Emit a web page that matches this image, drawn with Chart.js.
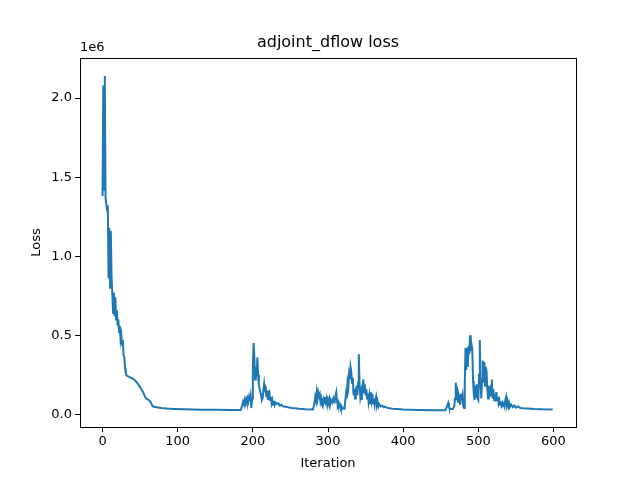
<!DOCTYPE html>
<html>
<head>
<meta charset="utf-8">
<script src="https://cdn.jsdelivr.net/npm/chart.js@4/dist/chart.umd.min.js"></script>
<style>
  html, body { margin: 0; padding: 0; background: #fff; }
  #wrap { width: 640px; height: 480px; }
</style>
</head>
<body>
<div id="wrap"><canvas id="myChart" width="640" height="480"></canvas></div>
<script>
// loss values
const iterations = [
  0, 1, 2, 3, 4, 5, 6, 7, 8, 9, 10, 11, 12, 13, 14, 15, 16, 17, 18, 19,
  20, 21, 22, 23, 24, 25, 26, 27, 28, 29, 30, 31, 32, 34, 36, 38, 40, 42, 44, 46,
  48, 50, 52, 54, 56, 58, 60, 62, 64, 66, 68, 70, 74, 78, 85, 95, 110, 130, 150, 170,
  184, 186, 187, 188, 189, 190, 191, 192, 193, 194, 195, 196, 197, 198, 199, 200, 201, 202, 203, 204,
  205, 206, 207, 208, 209, 210, 211, 212, 213, 214, 215, 216, 217, 218, 219, 220, 221, 222, 223, 224,
  225, 226, 227, 228, 229, 230, 232, 234, 236, 238, 240, 244, 248, 252, 256, 262, 270, 280, 282, 283,
  284, 285, 286, 287, 288, 289, 290, 291, 292, 293, 294, 295, 296, 297, 298, 299, 300, 301, 302, 303,
  304, 305, 306, 307, 308, 309, 310, 311, 312, 313, 314, 315, 316, 317, 318, 319, 320, 322, 323, 324,
  325, 326, 327, 328, 329, 330, 331, 332, 333, 334, 335, 336, 337, 338, 339, 340, 341, 342, 343, 344,
  345, 346, 347, 348, 349, 350, 351, 352, 353, 354, 355, 356, 357, 358, 359, 360, 361, 362, 363, 364,
  365, 366, 367, 368, 370, 372, 374, 376, 378, 382, 386, 392, 400, 420, 440, 456, 458, 460, 461, 462,
  466, 468, 469, 470, 471, 472, 473, 474, 475, 476, 477, 478, 479, 480, 481, 482, 483, 484, 485, 486,
  487, 488, 489, 490, 491, 492, 493, 494, 495, 496, 497, 498, 499, 500, 501, 502, 503, 504, 505, 506,
  507, 508, 509, 510, 511, 512, 513, 514, 515, 516, 517, 518, 519, 520, 521, 522, 523, 524, 525, 526,
  527, 528, 529, 530, 531, 532, 533, 534, 535, 536, 537, 538, 539, 540, 541, 542, 544, 546, 548, 550,
  553, 556, 560, 566, 575, 585, 599
];
const losses = [
  1.38e6, 2.08e6, 1.42e6, 2.14e6, 1.37e6, 1.33e6, 1.29e6, 1.32e6, 0.86e6, 1.18e6, 0.80e6, 1.16e6, 0.87e6, 0.76e6, 0.64e6, 0.77e6, 0.62e6, 0.74e6, 0.60e6, 0.66e6,
  0.56e6, 0.60e6, 0.52e6, 0.56e6, 0.47e6, 0.50e6, 0.44e6, 0.47e6, 0.37e6, 0.36e6, 0.29e6, 0.26e6, 0.245e6, 0.24e6, 0.235e6, 0.23e6, 0.225e6, 0.22e6, 0.21e6, 0.20e6,
  0.185e6, 0.17e6, 0.155e6, 0.14e6, 0.115e6, 0.10e6, 0.095e6, 0.088e6, 0.078e6, 0.055e6, 0.047e6, 0.046e6, 0.043e6, 0.040e6, 0.037e6, 0.034e6, 0.031e6, 0.029e6, 0.028e6, 0.027e6,
  0.027e6, 0.06e6, 0.078e6, 0.065e6, 0.09e6, 0.07e6, 0.095e6, 0.075e6, 0.10e6, 0.08e6, 0.11e6, 0.085e6, 0.115e6, 0.04e6, 0.10e6, 0.30e6, 0.45e6, 0.36e6, 0.22e6, 0.30e6,
  0.24e6, 0.36e6, 0.25e6, 0.19e6, 0.16e6, 0.14e6, 0.12e6, 0.09e6, 0.10e6, 0.15e6, 0.19e6, 0.14e6, 0.18e6, 0.11e6, 0.15e6, 0.09e6, 0.13e6, 0.14e6, 0.09e6, 0.11e6,
  0.07e6, 0.09e6, 0.06e6, 0.085e6, 0.06e6, 0.075e6, 0.065e6, 0.07e6, 0.055e6, 0.06e6, 0.05e6, 0.048e6, 0.043e6, 0.04e6, 0.038e6, 0.035e6, 0.032e6, 0.030e6, 0.07e6, 0.11e6,
  0.09e6, 0.14e6, 0.10e6, 0.14e6, 0.12e6, 0.13e6, 0.08e6, 0.10e6, 0.06e6, 0.05e6, 0.09e6, 0.07e6, 0.11e6, 0.08e6, 0.10e6, 0.06e6, 0.09e6, 0.07e6, 0.095e6, 0.065e6,
  0.09e6, 0.08e6, 0.085e6, 0.10e6, 0.075e6, 0.09e6, 0.12e6, 0.14e6, 0.08e6, 0.06e6, 0.075e6, 0.05e6, 0.06e6, 0.04e6, 0.05e6, 0.035e6, 0.04e6, 0.035e6, 0.09e6, 0.13e6,
  0.10e6, 0.20e6, 0.17e6, 0.25e6, 0.22e6, 0.30e6, 0.27e6, 0.20e6, 0.23e6, 0.12e6, 0.16e6, 0.10e6, 0.14e6, 0.18e6, 0.12e6, 0.20e6, 0.38e6, 0.19e6, 0.11e6, 0.14e6,
  0.09e6, 0.18e6, 0.22e6, 0.14e6, 0.19e6, 0.12e6, 0.16e6, 0.10e6, 0.13e6, 0.08e6, 0.12e6, 0.07e6, 0.14e6, 0.09e6, 0.13e6, 0.07e6, 0.10e6, 0.06e6, 0.09e6, 0.11e6,
  0.06e6, 0.08e6, 0.05e6, 0.065e6, 0.05e6, 0.055e6, 0.045e6, 0.048e6, 0.042e6, 0.038e6, 0.035e6, 0.033e6, 0.030e6, 0.027e6, 0.026e6, 0.026e6, 0.045e6, 0.072e6, 0.05e6, 0.035e6,
  0.033e6, 0.05e6, 0.10e6, 0.20e6, 0.09e6, 0.13e6, 0.08e6, 0.12e6, 0.10e6, 0.06e6, 0.13e6, 0.09e6, 0.12e6, 0.05e6, 0.04e6, 0.20e6, 0.42e6, 0.28e6, 0.42e6, 0.30e6,
  0.43e6, 0.38e6, 0.50e6, 0.40e6, 0.44e6, 0.41e6, 0.21e6, 0.13e6, 0.09e6, 0.18e6, 0.11e6, 0.19e6, 0.10e6, 0.09e6, 0.25e6, 0.47e6, 0.20e6, 0.10e6, 0.22e6, 0.34e6,
  0.20e6, 0.33e6, 0.18e6, 0.30e6, 0.27e6, 0.16e6, 0.10e6, 0.18e6, 0.11e6, 0.15e6, 0.12e6, 0.22e6, 0.10e6, 0.16e6, 0.09e6, 0.13e6, 0.08e6, 0.14e6, 0.09e6, 0.11e6,
  0.07e6, 0.09e6, 0.06e6, 0.08e6, 0.055e6, 0.07e6, 0.05e6, 0.08e6, 0.055e6, 0.09e6, 0.11e6, 0.06e6, 0.08e6, 0.05e6, 0.07e6, 0.045e6, 0.06e6, 0.045e6, 0.055e6, 0.042e6,
  0.05e6, 0.04e6, 0.038e6, 0.036e6, 0.033e6, 0.031e6, 0.030e6
];
const xTicks = [0, 100, 200, 300, 400, 500, 600];
const yTicks = [0, 0.5e6, 1.0e6, 1.5e6, 2.0e6];

const font = { family: 'DejaVu Sans', size: 13 };

// matplotlib-style decorations: full frame, title and offset text
const frame = {
  id: 'frame',
  afterDraw(c) {
    const { ctx, chartArea: a } = c;
    ctx.save();
    ctx.strokeStyle = '#000';
    ctx.lineWidth = 1;
    ctx.strokeRect(Math.round(a.left) + 0.5, Math.round(a.top) + 0.5,
      Math.round(a.right - a.left), Math.round(a.bottom - a.top));
    ctx.fillStyle = '#000';
    ctx.textBaseline = 'middle';
    ctx.font = '16px "DejaVu Sans"';
    ctx.textAlign = 'center';
    ctx.fillText('adjoint_dflow loss', (a.left + a.right) / 2, 43);
    ctx.font = '13px "DejaVu Sans"';
    ctx.textAlign = 'left';
    ctx.fillText('1e6', a.left, 48);
    ctx.restore();
  }
};

const ctx = document.getElementById('myChart');
new Chart(ctx, {
  type: 'line',
  data: {
    datasets: [{
      label: 'loss',
      data: iterations.map((it, i) => ({ x: it, y: losses[i] })),
      borderColor: '#1f77b4',
      borderWidth: 2,
      pointRadius: 0,
      tension: 0,
      fill: false
    }]
  },
  options: {
    responsive: false,
    animation: false,
    events: [],
    layout: { padding: { top: 58, right: 64, left: 29, bottom: 9 } },
    plugins: { legend: { display: false }, tooltip: { enabled: false } },
    scales: {
      x: {
        type: 'linear',
        min: -30,
        max: 630,
        afterBuildTicks: s => { s.ticks = xTicks.map(v => ({ value: v })); },
        afterFit: s => { s.height = 44; },
        grid: { drawOnChartArea: false, drawTicks: true, tickLength: 5, color: '#000' },
        border: { display: false },
        ticks: { color: '#000', font: font, padding: 2, maxRotation: 0, callback: v => String(v) },
        title: { display: true, text: 'Iteration', color: '#000', font: font, padding: { top: 2, bottom: 0 } }
      },
      y: {
        type: 'linear',
        min: -0.0805e6,
        max: 2.2535e6,
        afterBuildTicks: s => { s.ticks = yTicks.map(v => ({ value: v })); },
        afterFit: s => { s.width = 51; },
        grid: { drawOnChartArea: false, drawTicks: true, tickLength: 5, color: '#000' },
        border: { display: false },
        ticks: { color: '#000', font: font, padding: 3, callback: v => (v / 1e6).toFixed(1) },
        title: { display: true, text: 'Loss', color: '#000', font: font, padding: { top: 0, bottom: 0 } }
      }
    }
  },
  plugins: [frame]
});
</script>
</body>
</html>
